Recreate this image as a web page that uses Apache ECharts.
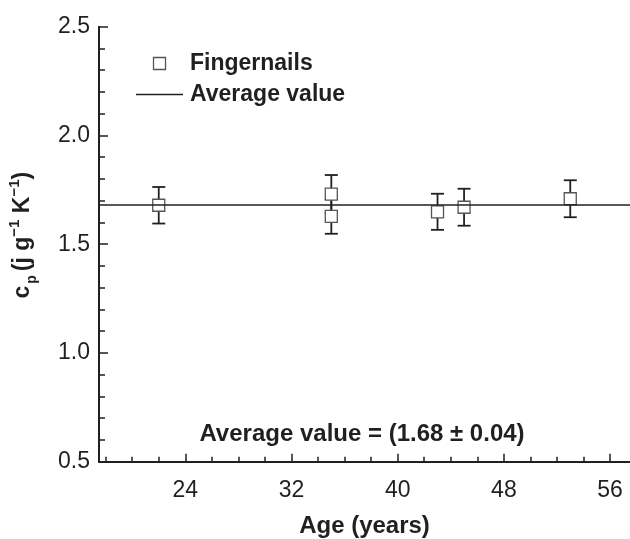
<!DOCTYPE html>
<html>
<head>
<meta charset="utf-8">
<script src="https://cdn.jsdelivr.net/npm/echarts@6/dist/echarts.min.js"></script>
<style>html,body{margin:0;padding:0;background:#fff}#c{width:630px;height:539px}</style>
</head>
<body>
<div id="c"></div>
<script>
// ---- data ----
const ages = [22, 35, 35, 43, 45, 53];
const cpValues = [1.679, 1.730, 1.628, 1.649, 1.670, 1.709];
const cpErrors = [0.084, 0.088, 0.080, 0.083, 0.085, 0.085];
const averageValue = 1.68;
const xMajorTicks = [24, 32, 40, 48, 56];
const xMinorTicks = [18, 20, 22, 26, 28, 30, 34, 36, 38, 42, 44, 46, 50, 52, 54, 56, 58];
const xMin = 17.5, xMax = 57.5;
const annotationText = 'Average value = (1.68 \u00b1 0.04)';

const FONT = '"Liberation Sans", Arial, Helvetica, sans-serif';
const INK = '#231f20';

const chart = echarts.init(document.getElementById('c'));
const points = ages.map((a, i) => [a, cpValues[i], cpErrors[i]]);

chart.setOption({
  animation: false,
  backgroundColor: '#fff',
  textStyle: { fontFamily: FONT, color: INK },
  grid: { left: 99, right: 0, top: 26.7, bottom: 77.3, containLabel: false, outerBoundsMode: 'none' },
  legend: {
    orient: 'vertical',
    left: 131,
    top: 47,
    itemWidth: 47,
    itemHeight: 12,
    itemGap: 8,
    selectedMode: false,
    textStyle: { fontFamily: FONT, fontSize: 23, fontWeight: 'bold', color: INK, padding: [0, 0, 0, 2], lineHeight: 22 },
    data: [
      { name: 'Fingernails', icon: 'path://M0,0H10V10H0Z', itemStyle: { color: '#fff', borderColor: '#555', borderWidth: 1.3 } },
      { name: 'Average value', icon: 'path://M0,0H47V1.5H0Z', itemStyle: { color: INK, borderWidth: 0 } }
    ]
  },
  xAxis: [{
    type: 'value', min: xMin, max: xMax,
    name: 'Age (years)', nameLocation: 'middle', nameGap: 53,
    nameTextStyle: { fontFamily: FONT, fontSize: 24, fontWeight: 'bold', color: INK },
    axisLine: { lineStyle: { color: INK, width: 2 } },
    axisTick: { show: true, inside: true, length: 8, customValues: xMajorTicks, lineStyle: { color: INK, width: 1.5 } },
    axisLabel: { customValues: xMajorTicks, fontFamily: FONT, fontSize: 23, color: INK, margin: 17 },
    splitLine: { show: false }
  }, {
    type: 'value', min: xMin, max: xMax, position: 'bottom',
    axisLine: { show: false },
    axisTick: { show: true, inside: true, length: 5, customValues: xMinorTicks, lineStyle: { color: INK, width: 1.5 } },
    axisLabel: { show: false },
    splitLine: { show: false }
  }],
  yAxis: {
    type: 'value', min: 0.5, max: 2.5, interval: 0.5,
    name: '{b|c}{sub|p}{b|(j g}{sup|\u22121}{b| K}{sup|\u22121}{b|)}',
    nameLocation: 'middle', nameGap: 60, nameRotate: 90,
    nameTextStyle: {
      padding: [0, 0, 0, 18],
      rich: {
        b: { fontFamily: FONT, fontSize: 23, fontWeight: 'bold', color: INK, lineHeight: 32 },
        sub: { fontFamily: FONT, fontSize: 14, fontWeight: 'bold', color: INK, verticalAlign: 'bottom', lineHeight: 32, padding: [0, 4, 0, 2] },
        sup: { fontFamily: FONT, fontSize: 15, fontWeight: 'bold', color: INK, verticalAlign: 'top', lineHeight: 32 }
      }
    },
    axisLine: { show: true, lineStyle: { color: INK, width: 2 } },
    axisTick: { show: true, inside: true, length: 9, lineStyle: { color: INK, width: 1.5 } },
    minorTick: { show: true, splitNumber: 5, length: 6, lineStyle: { color: INK, width: 1.5 } },
    axisLabel: { fontFamily: FONT, fontSize: 23, color: INK, margin: 9, formatter: v => v.toFixed(1) },
    splitLine: { show: false }
  },
  series: [
    {
      name: 'Average value',
      type: 'line',
      data: [],
      symbol: 'none',
      itemStyle: { color: INK },
      lineStyle: { color: INK, width: 1.5 },
      markLine: {
        silent: true, symbol: 'none', label: { show: false },
        lineStyle: { color: INK, width: 1.5, type: 'solid' },
        data: [{ yAxis: averageValue }]
      }
    },
    {
      name: 'errors',
      type: 'custom',
      z: 3,
      data: points,
      renderItem: function (params, api) {
        const x = api.value(0), y = api.value(1), e = api.value(2);
        const top = api.coord([x, y + e]);
        const bot = api.coord([x, y - e]);
        const hw = 6.5;
        const st = { stroke: INK, lineWidth: 1.8 };
        return {
          type: 'group',
          children: [
            { type: 'line', shape: { x1: top[0], y1: top[1], x2: bot[0], y2: bot[1] }, style: st },
            { type: 'line', shape: { x1: top[0] - hw, y1: top[1], x2: top[0] + hw, y2: top[1] }, style: st },
            { type: 'line', shape: { x1: bot[0] - hw, y1: bot[1], x2: bot[0] + hw, y2: bot[1] }, style: st }
          ]
        };
      }
    },
    {
      name: 'Fingernails',
      type: 'scatter',
      z: 4,
      symbol: 'rect',
      symbolSize: 12,
      data: points.map(p => [p[0], p[1]]),
      itemStyle: { color: '#fff', borderColor: '#555', borderWidth: 1.3, opacity: 1 }
    }
  ],
  graphic: [{
    type: 'text',
    x: 362, y: 434,
    style: { text: annotationText, fontFamily: FONT, fontSize: 24, fontWeight: 'bold', fill: INK, textAlign: 'center', textVerticalAlign: 'middle' }
  }]
});
</script>
</body>
</html>
